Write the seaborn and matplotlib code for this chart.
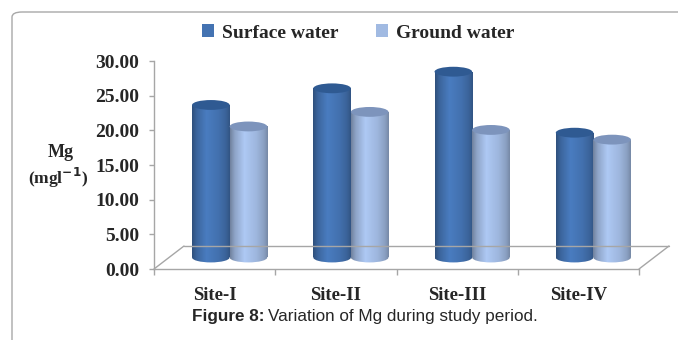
import numpy as np
import pandas as pd
import matplotlib
matplotlib.use("Agg")
import matplotlib.pyplot as plt
import matplotlib.transforms as mtransforms
from matplotlib.patches import Ellipse, FancyBboxPatch
from matplotlib.lines import Line2D
from matplotlib.colors import to_rgb
import seaborn as sns

# Magnesium concentration (mg l-1) at each site
sites = ["Site-I", "Site-II", "Site-III", "Site-IV"]
surface_water = [22.0, 24.4, 26.8, 18.0]
ground_water = [18.9, 21.0, 18.4, 17.0]
series_names = ["Surface water", "Ground water"]
yticks = [0, 5, 10, 15, 20, 25, 30]

df = pd.DataFrame({
    "Site": sites * 2,
    "Mg": surface_water + ground_water,
    "Source": [series_names[0]] * len(sites) + [series_names[1]] * len(sites),
})

sns.set_theme(style="white")
plt.rcParams["font.family"] = ["Liberation Serif", "DejaVu Serif"]

DPI = 100
W, H = 678, 340
fig = plt.figure(figsize=(W / DPI, H / DPI), dpi=DPI)

# plot area: front edge of the floor and the value axis
ax_l, ax_r, ax_b, ax_t = 154, 639, 269, 61
ax = fig.add_axes([ax_l / W, 1 - ax_b / H, (ax_r - ax_l) / W, (ax_b - ax_t) / H])

body = {"Surface water": "#4473B2", "Ground water": "#A1BAE2"}
tops = {"Surface water": "#2F5A92", "Ground water": "#7D94BC"}

sns.barplot(data=df, x="Site", y="Mg", hue="Source", palette=body,
            width=0.62, saturation=1, ax=ax, edgecolor="none")
ax.set_xlim(-0.5, len(sites) - 0.5)
ax.set_ylim(yticks[0], yticks[-1])

# depth offsets (pixels): bars stand in the middle of the floor
px = lambda v: v / DPI
mid = mtransforms.ScaledTranslation(px(15), px(11.5), fig.dpi_scale_trans)
back = mtransforms.ScaledTranslation(px(30), px(23), fig.dpi_scale_trans)
bar_tr = ax.transData + mid


def shade(color, n=64):
    """Horizontal cylinder shading for one colour."""
    base = np.array(to_rgb(color))
    pos = [0.0, 0.12, 0.38, 0.7, 0.9, 1.0]
    gain = [0.70, 0.88, 1.08, 0.98, 0.86, 0.74]
    g = np.interp(np.linspace(0, 1, n), pos, gain)
    img = np.clip(base[None, :] * g[:, None], 0, 1)
    return img[None, :, :]


ell_h = 1.42  # height of the end caps in value units
for cont, name in zip(ax.containers, series_names):
    grad = shade(body[name])
    for rect in cont:
        x0, w, h = rect.get_x(), rect.get_width(), rect.get_height()
        rect.set_transform(bar_tr)
        rect.set_facecolor("none")
        # bottom cap, visible below the body
        cap_b = Ellipse((x0 + w / 2, 0), w, ell_h, transform=bar_tr,
                        facecolor="none", edgecolor="none")
        ax.add_patch(cap_b)
        for clip in (rect, cap_b):
            im = ax.imshow(grad, extent=[x0, x0 + w, -ell_h, h],
                           transform=bar_tr, aspect="auto",
                           interpolation="bilinear", zorder=2)
            im.set_clip_path(clip)
        # top cap
        ax.add_patch(Ellipse((x0 + w / 2, h), w, ell_h, transform=bar_tr,
                             facecolor=tops[name], edgecolor="none", zorder=3))

ax.set_xlim(-0.5, len(sites) - 0.5)
ax.set_ylim(yticks[0], yticks[-1])

# axes styling
grey = "#A6A6A6"
for s in ("top", "right"):
    ax.spines[s].set_visible(False)
for s in ("left", "bottom"):
    ax.spines[s].set_color(grey)
    ax.spines[s].set_linewidth(1.0)
ax.set_yticks(yticks)
ax.set_yticklabels([f"{v:.2f}" for v in yticks], fontsize=14, fontweight="bold")
ax.tick_params(axis="y", which="major", direction="out", length=3.5,
               color=grey, width=1, pad=7, left=True)
ax.set_xticks(range(len(sites)))
ax.set_xticklabels(sites, fontsize=13.5, fontweight="bold")
ax.set_xticks(np.arange(-0.5, len(sites), 1.0), minor=True)
ax.tick_params(axis="x", which="major", length=0, pad=13)
ax.tick_params(axis="x", which="minor", direction="out", length=4,
               color=grey, width=1, bottom=True)
ax.set_xlabel("")
ax.set_ylabel("")
ax.grid(False)

# floor outline: back edge and the two slanted sides
inv = fig.transFigure.inverted()
fl = ax.transData.transform([(-0.5, 0), (len(sites) - 0.5, 0)])
bk = (ax.transData + back).transform([(-0.5, 0), (len(sites) - 0.5, 0)])
for a, b in ((fl[0], bk[0]), (bk[0], bk[1]), (fl[1], bk[1])):
    p = inv.transform([a, b])
    fig.add_artist(Line2D(p[:, 0], p[:, 1], color=grey, lw=1.0))

# axis title
fig.text(61 / W, 1 - 153 / H, "Mg", ha="center", va="center",
         fontsize=13, fontweight="bold")
fig.text(58 / W, 1 - 178 / H, "(mgl$^{\\mathbf{-1}}$)", ha="center", va="center",
         fontsize=12.5, fontweight="bold")

# legend above the plot
handles, labels = ax.get_legend_handles_labels()
if ax.get_legend() is not None:
    ax.get_legend().remove()
fig.legend(handles, labels, loc="center", bbox_to_anchor=(358 / W, 1 - 33 / H),
           ncol=2, frameon=False, handlelength=0.65, handleheight=0.65,
           handletextpad=0.4, columnspacing=1.9,
           prop={"family": "Liberation Serif", "weight": "bold", "size": 14})

# panel border with rounded corner
fig.add_artist(FancyBboxPatch((12 / W, -40 / H), 720 / W, (340 - 12 + 40) / H,
                              boxstyle="round,pad=0,rounding_size=0.015",
                              transform=fig.transFigure, facecolor="none",
                              edgecolor="#A8A8A8", lw=1.0))

# caption
fig.canvas.draw()
rend = fig.canvas.get_renderer()
t1 = fig.text(192 / W, 1 - 316 / H, "Figure 8:", ha="left", va="center",
              fontsize=12.3, fontweight="bold", family="Liberation Sans")
bb = t1.get_window_extent(renderer=rend)
fig.text(bb.x1 / W + 4 / W, 1 - 316 / H, "Variation of Mg during study period.",
         ha="left", va="center", fontsize=12.3, family="Liberation Sans")

fig.savefig("out.png", dpi=DPI)
